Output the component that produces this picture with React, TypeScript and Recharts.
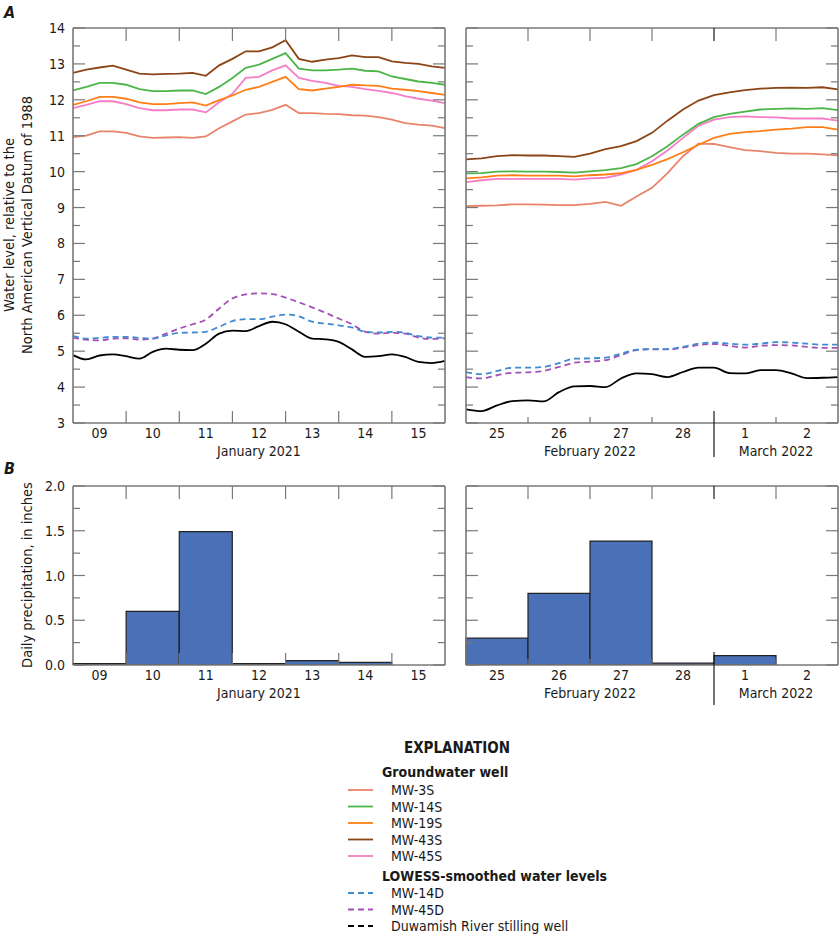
import React from "react";
import { ComposedChart, BarChart, Line, Bar, XAxis, YAxis } from "recharts";

const FONT = '"Liberation Sans Narrow", "Arial Narrow", "DejaVu Sans Condensed", "Liberation Sans", sans-serif';
const FRAME = "#787878";
const INK = "#1a1a1a";

// January 2021, water levels every 6 hours starting 09 Jan 00:00
const janDayLabels = ["09", "10", "11", "12", "13", "14", "15"];
const janMonthLabels = ["January 2021"];
const janMonthSpans = [7];
const janMw3s = [10.96, 11.0, 11.12, 11.12, 11.08, 10.98, 10.94, 10.95, 10.96, 10.94, 10.98, 11.21, 11.4, 11.59, 11.63, 11.72, 11.86, 11.63, 11.63, 11.61, 11.6, 11.57, 11.56, 11.52, 11.45, 11.35, 11.31, 11.28, 11.21];
const janMw14s = [12.26, 12.36, 12.47, 12.47, 12.42, 12.3, 12.24, 12.24, 12.26, 12.26, 12.16, 12.36, 12.61, 12.89, 12.98, 13.14, 13.3, 12.87, 12.82, 12.82, 12.84, 12.87, 12.81, 12.79, 12.65, 12.58, 12.51, 12.47, 12.42];
const janMw19s = [11.86, 11.96, 12.08, 12.08, 12.03, 11.93, 11.88, 11.88, 11.91, 11.93, 11.84, 11.99, 12.12, 12.28, 12.36, 12.5, 12.64, 12.3, 12.26, 12.31, 12.36, 12.42, 12.4, 12.39, 12.31, 12.28, 12.24, 12.19, 12.14];
const janMw43s = [12.75, 12.84, 12.9, 12.95, 12.84, 12.73, 12.71, 12.72, 12.73, 12.75, 12.67, 12.96, 13.14, 13.35, 13.35, 13.46, 13.66, 13.14, 13.06, 13.12, 13.16, 13.24, 13.19, 13.19, 13.07, 13.03, 13.0, 12.93, 12.89];
const janMw45s = [11.77, 11.86, 11.96, 11.96, 11.88, 11.77, 11.71, 11.71, 11.73, 11.73, 11.65, 11.93, 12.17, 12.61, 12.64, 12.82, 12.96, 12.61, 12.53, 12.47, 12.39, 12.36, 12.3, 12.25, 12.19, 12.1, 12.03, 11.98, 11.91];
const janMw14d = [5.43, 5.35, 5.37, 5.4, 5.4, 5.37, 5.35, 5.44, 5.51, 5.52, 5.54, 5.68, 5.84, 5.89, 5.89, 5.96, 6.02, 5.97, 5.82, 5.77, 5.72, 5.66, 5.54, 5.52, 5.54, 5.51, 5.42, 5.38, 5.38];
const janMw45d = [5.38, 5.32, 5.3, 5.35, 5.36, 5.32, 5.35, 5.49, 5.63, 5.75, 5.88, 6.19, 6.47, 6.58, 6.61, 6.59, 6.49, 6.36, 6.22, 6.07, 5.91, 5.75, 5.54, 5.49, 5.51, 5.49, 5.38, 5.34, 5.36];
const janRiver = [4.89, 4.77, 4.88, 4.91, 4.86, 4.79, 4.98, 5.07, 5.04, 5.03, 5.21, 5.49, 5.57, 5.56, 5.7, 5.82, 5.75, 5.54, 5.35, 5.33, 5.26, 5.05, 4.84, 4.86, 4.91, 4.84, 4.7, 4.67, 4.73];
const janPrecip = [0.015, 0.6, 1.49, 0.015, 0.05, 0.03, 0];

// February 25 - March 2, 2022, every 6 hours starting 25 Feb 00:00
const febMarDayLabels = ["25", "26", "27", "28", "1", "2"];
const febMarMonthLabels = ["February 2022", "March 2022"];
const febMarMonthSpans = [4, 2];
const fmMw3s = [9.04, 9.05, 9.06, 9.09, 9.09, 9.08, 9.07, 9.07, 9.1, 9.16, 9.05, 9.31, 9.55, 9.96, 10.43, 10.78, 10.77, 10.68, 10.6, 10.57, 10.52, 10.5, 10.5, 10.48, 10.45];
const fmMw14s = [9.95, 9.96, 10.0, 10.01, 10.0, 10.0, 9.99, 9.97, 10.01, 10.04, 10.1, 10.21, 10.43, 10.71, 11.03, 11.33, 11.52, 11.61, 11.67, 11.73, 11.75, 11.76, 11.75, 11.77, 11.71];
const fmMw19s = [9.81, 9.84, 9.89, 9.9, 9.89, 9.89, 9.89, 9.87, 9.9, 9.92, 9.96, 10.05, 10.19, 10.35, 10.54, 10.75, 10.94, 11.05, 11.1, 11.13, 11.17, 11.2, 11.24, 11.24, 11.17];
const fmMw43s = [10.34, 10.37, 10.43, 10.46, 10.45, 10.45, 10.43, 10.41, 10.5, 10.63, 10.71, 10.85, 11.08, 11.42, 11.73, 11.98, 12.13, 12.21, 12.27, 12.31, 12.33, 12.34, 12.33, 12.35, 12.29];
const fmMw45s = [9.71, 9.76, 9.8, 9.8, 9.8, 9.8, 9.8, 9.78, 9.81, 9.83, 9.92, 10.05, 10.29, 10.59, 10.94, 11.28, 11.45, 11.52, 11.54, 11.52, 11.51, 11.48, 11.48, 11.48, 11.42];
const fmMw14d = [4.42, 4.36, 4.45, 4.54, 4.54, 4.56, 4.67, 4.79, 4.8, 4.82, 4.93, 5.04, 5.06, 5.06, 5.12, 5.21, 5.24, 5.21, 5.18, 5.21, 5.25, 5.24, 5.21, 5.18, 5.18];
const fmMw45d = [4.28, 4.24, 4.33, 4.4, 4.41, 4.45, 4.56, 4.68, 4.71, 4.75, 4.89, 5.03, 5.05, 5.05, 5.1, 5.17, 5.2, 5.15, 5.1, 5.15, 5.17, 5.16, 5.12, 5.09, 5.09];
const fmRiver = [3.38, 3.33, 3.49, 3.61, 3.63, 3.6, 3.86, 4.02, 4.03, 4.0, 4.24, 4.38, 4.36, 4.28, 4.42, 4.54, 4.54, 4.39, 4.38, 4.47, 4.47, 4.38, 4.25, 4.26, 4.28];
const fmPrecip = [0.3, 0.8, 1.385, 0.02, 0.104, 0];

const waterTicks = [3, 3.5, 4, 4.5, 5, 5.5, 6, 6.5, 7, 7.5, 8, 8.5, 9, 9.5, 10, 10.5, 11, 11.5, 12, 12.5, 13, 13.5, 14];
const precipTicks = [0, 0.25, 0.5, 0.75, 1, 1.25, 1.5, 1.75, 2];

const wells = [
  { key: "mw3s", name: "MW-3S", color: "#e8846a" },
  { key: "mw14s", name: "MW-14S", color: "#4cb548" },
  { key: "mw19s", name: "MW-19S", color: "#ff7f16" },
  { key: "mw43s", name: "MW-43S", color: "#8b4516" },
  { key: "mw45s", name: "MW-45S", color: "#f47ec6" },
];
const smoothed = [
  { key: "mw14d", name: "MW-14D", color: "#3f8ad0" },
  { key: "mw45d", name: "MW-45D", color: "#a24fb6" },
  { key: "river", name: "Duwamish River stilling well", color: "#000000" },
];
const drawOrder = ["mw3s", "mw45s", "mw19s", "mw14s", "mw43s"];

function buildRows(series: Record<string, number[]>) {
  const n = series.mw3s.length;
  return Array.from({ length: n }, (_, i) => {
    const row: Record<string, number> = { t: i / 4 };
    Object.keys(series).forEach((k) => (row[k] = series[k][i]));
    return row;
  });
}

const janRows = buildRows({ mw3s: janMw3s, mw14s: janMw14s, mw19s: janMw19s, mw43s: janMw43s, mw45s: janMw45s, mw14d: janMw14d, mw45d: janMw45d, river: janRiver });
const fmRows = buildRows({ mw3s: fmMw3s, mw14s: fmMw14s, mw19s: fmMw19s, mw43s: fmMw43s, mw45s: fmMw45s, mw14d: fmMw14d, mw45d: fmMw45d, river: fmRiver });
const janBars = janDayLabels.map((day, i) => ({ day, precip: janPrecip[i] }));
const fmBars = febMarDayLabels.map((day, i) => ({ day, precip: fmPrecip[i] }));

const textStyle = { fontFamily: FONT, fontSize: 14, fill: INK } as const;

function monthCenters(spans: number[]) {
  let acc = 0;
  return spans.map((s) => {
    const c = acc + s / 2;
    acc += s;
    return c;
  });
}

function monthBounds(spans: number[]) {
  let acc = 0;
  return spans.slice(0, -1).map((s) => (acc += s));
}

type BottomOpts = {
  dayLabels: string[];
  monthLabels: string[];
  monthSpans: number[];
  dayWidth: number;
  tickLen: number;
  dividerUp: number;
  dividerDown: number;
};

function makeBottomTick(o: BottomOpts) {
  const centers = monthCenters(o.monthSpans);
  const bounds = monthBounds(o.monthSpans);
  const n = o.dayLabels.length;
  return (props: any) => {
    const { x, y, payload, index } = props;
    const i = typeof payload.value === "number" ? Math.round(payload.value - 0.5) : index;
    const edge = x + o.dayWidth / 2;
    const isBound = bounds.includes(i + 1);
    return (
      <g>
        {i < n - 1 && !isBound && <line x1={edge} x2={edge} y1={y} y2={y - o.tickLen} stroke={FRAME} strokeWidth={1.2} />}
        {isBound && <line x1={edge} x2={edge} y1={y - o.dividerUp} y2={y + o.dividerDown} stroke={INK} strokeWidth={1.2} />}
        <text x={x} y={y + 15} textAnchor="middle" style={textStyle}>
          {o.dayLabels[i]}
        </text>
        {centers.map((c, m) =>
          Math.ceil(c) - 1 === i ? (
            <text key={m} x={x + (c - (i + 0.5)) * o.dayWidth} y={y + 33} textAnchor="middle" style={textStyle}>
              {o.monthLabels[m]}
            </text>
          ) : null
        )}
      </g>
    );
  };
}

function makeTopTick(n: number, dayWidth: number, spans: number[]) {
  const bounds = monthBounds(spans);
  return (props: any) => {
    const { x, y, payload, index } = props;
    const i = typeof payload.value === "number" ? Math.round(payload.value - 0.5) : index;
    if (i >= n - 1) return <g />;
    const edge = x + dayWidth / 2;
    return <line x1={edge} x2={edge} y1={y} y2={y + 13} stroke={bounds.includes(i + 1) ? INK : FRAME} strokeWidth={1.2} />;
  };
}

function makeSideTick(side: "left" | "right", majorStep: number, decimals: number, labels: boolean) {
  return (props: any) => {
    const { x, y, payload } = props;
    const v = payload.value as number;
    const major = Math.abs(v / majorStep - Math.round(v / majorStep)) < 1e-6;
    const len = major ? 12 : 7;
    const x2 = side === "left" ? x + len : x - len;
    return (
      <g>
        <line x1={x} x2={x2} y1={y} y2={y} stroke={FRAME} strokeWidth={1.2} />
        {labels && major && (
          <text x={x - 8} y={y + 5} textAnchor="end" style={textStyle}>
            {v.toFixed(decimals)}
          </text>
        )}
      </g>
    );
  };
}

const frameLine = { stroke: FRAME, strokeWidth: 1.6 };

type PanelProps = {
  dayLabels: string[];
  monthLabels: string[];
  monthSpans: number[];
  left: number;
  width: number;
  marginLeft: number;
  marginRight: number;
  leftAxisWidth: number;
  rightAxisWidth: number;
  labels: boolean;
  bottomTickLen: number;
};

function WaterPanel(p: PanelProps & { rows: Record<string, number>[] }) {
  const n = p.dayLabels.length;
  const dayWidth = (p.width - p.marginLeft - p.marginRight - p.leftAxisWidth - p.rightAxisWidth) / n;
  const centerTicks = p.dayLabels.map((_, i) => i + 0.5);
  return (
    <div style={{ position: "absolute", left: p.left, top: 0 }}>
      <ComposedChart width={p.width} height={480} data={p.rows} margin={{ top: 18, right: p.marginRight, bottom: 12, left: p.marginLeft }}>
        <XAxis xAxisId="b" dataKey="t" type="number" domain={[0, n]} allowDataOverflow ticks={centerTicks} interval={0} height={45} tickSize={0} tickMargin={0} tickLine={false} axisLine={frameLine}
          tick={makeBottomTick({ dayLabels: p.dayLabels, monthLabels: p.monthLabels, monthSpans: p.monthSpans, dayWidth, tickLen: p.bottomTickLen, dividerUp: 12, dividerDown: 34 })} />
        <XAxis xAxisId="t" orientation="top" dataKey="t" type="number" domain={[0, n]} allowDataOverflow ticks={centerTicks} interval={0} height={10} tickSize={0} tickMargin={0} tickLine={false} axisLine={frameLine}
          tick={makeTopTick(n, dayWidth, p.monthSpans)} />
        <YAxis yAxisId="l" type="number" domain={[3, 14]} allowDataOverflow ticks={waterTicks} interval={0} width={p.leftAxisWidth} tickSize={0} tickMargin={0} tickLine={false} axisLine={frameLine}
          tick={makeSideTick("left", 1, 0, p.labels)} />
        <YAxis yAxisId="r" orientation="right" type="number" domain={[3, 14]} allowDataOverflow ticks={waterTicks} interval={0} width={p.rightAxisWidth} tickSize={0} tickMargin={0} tickLine={false} axisLine={frameLine}
          tick={makeSideTick("right", 1, 0, false)} />
        {drawOrder.map((key) => {
          const w = wells.find((x) => x.key === key)!;
          return <Line key={key} xAxisId="b" yAxisId="l" type="linear" dataKey={key} stroke={w.color} strokeWidth={1.8} dot={false} activeDot={false} isAnimationActive={false} />;
        })}
        <Line xAxisId="b" yAxisId="l" type="monotone" dataKey="mw45d" stroke={smoothed[1].color} strokeWidth={1.8} strokeDasharray="6 4" dot={false} activeDot={false} isAnimationActive={false} />
        <Line xAxisId="b" yAxisId="l" type="monotone" dataKey="mw14d" stroke={smoothed[0].color} strokeWidth={1.8} strokeDasharray="6 4" dot={false} activeDot={false} isAnimationActive={false} />
        <Line xAxisId="b" yAxisId="l" type="monotone" dataKey="river" stroke="#000" strokeWidth={1.8} dot={false} activeDot={false} isAnimationActive={false} />
      </ComposedChart>
    </div>
  );
}

function PrecipPanel(p: PanelProps & { bars: { day: string; precip: number }[] }) {
  const n = p.dayLabels.length;
  const dayWidth = (p.width - p.marginLeft - p.marginRight - p.leftAxisWidth - p.rightAxisWidth) / n;
  return (
    <div style={{ position: "absolute", left: p.left, top: 440 }}>
      <BarChart width={p.width} height={280} data={p.bars} barCategoryGap={0} margin={{ top: 36, right: p.marginRight, bottom: 10, left: p.marginLeft }}>
        <XAxis xAxisId="b" dataKey="day" interval={0} height={45} tickSize={0} tickMargin={0} tickLine={false} axisLine={frameLine}
          tick={makeBottomTick({ dayLabels: p.dayLabels, monthLabels: p.monthLabels, monthSpans: p.monthSpans, dayWidth, tickLen: p.bottomTickLen, dividerUp: 13, dividerDown: 40 })} />
        <XAxis xAxisId="t" orientation="top" dataKey="day" interval={0} height={10} tickSize={0} tickMargin={0} tickLine={false} axisLine={frameLine}
          tick={makeTopTick(n, dayWidth, p.monthSpans)} />
        <YAxis yAxisId="l" type="number" domain={[0, 2]} allowDataOverflow ticks={precipTicks} interval={0} width={p.leftAxisWidth} tickSize={0} tickMargin={0} tickLine={false} axisLine={frameLine}
          tick={makeSideTick("left", 0.5, 1, p.labels)} />
        <YAxis yAxisId="r" orientation="right" type="number" domain={[0, 2]} allowDataOverflow ticks={precipTicks} interval={0} width={p.rightAxisWidth} tickSize={0} tickMargin={0} tickLine={false} axisLine={frameLine}
          tick={makeSideTick("right", 0.5, 1, false)} />
        <Bar xAxisId="b" yAxisId="l" dataKey="precip" fill="#4a71b8" stroke="#222" strokeWidth={1.2} isAnimationActive={false} />
      </BarChart>
    </div>
  );
}

const leftPanel = { left: 0, width: 460, marginLeft: 33, marginRight: 5, leftAxisWidth: 40, rightAxisWidth: 10, labels: true, bottomTickLen: 12 };
const rightPanel = { left: 460, width: 380, marginLeft: 0, marginRight: 1, leftAxisWidth: 6, rightAxisWidth: 1, labels: false, bottomTickLen: 6 };

function Explanation() {
  const lineX1 = 348;
  const lineX2 = 373;
  const textX = 391;
  const wellRows = [790, 806.5, 823, 839.5, 856];
  const smoothRows = [893, 909.5, 926];
  return (
    <svg width={840} height={942} style={{ position: "absolute", left: 0, top: 0, pointerEvents: "none" }}>
      <text x={4} y={18} style={{ ...textStyle, fontSize: 16, fontWeight: 700, fontStyle: "italic" }}>A</text>
      <text x={4} y={474} style={{ ...textStyle, fontSize: 16, fontWeight: 700, fontStyle: "italic" }}>B</text>
      <g transform="translate(14,225) rotate(-90)">
        <text x={0} y={0} textAnchor="middle" style={{ ...textStyle, fontSize: 14.5 }}>Water level, relative to the</text>
      </g>
      <g transform="translate(32,225) rotate(-90)">
        <text x={0} y={0} textAnchor="middle" style={{ ...textStyle, fontSize: 14.5 }}>North American Vertical Datum of 1988</text>
      </g>
      <g transform="translate(32,575) rotate(-90)">
        <text x={0} y={0} textAnchor="middle" style={{ ...textStyle, fontSize: 14.5 }}>Daily precipitation, in inches</text>
      </g>
      <text x={457} y={753} textAnchor="middle" style={{ ...textStyle, fontSize: 15, fontWeight: 700 }}>EXPLANATION</text>
      <text x={382} y={777} style={{ ...textStyle, fontWeight: 700 }}>Groundwater well</text>
      {wells.map((w, i) => (
        <g key={w.key}>
          <line x1={lineX1} x2={lineX2} y1={wellRows[i]} y2={wellRows[i]} stroke={w.color} strokeWidth={1.8} />
          <text x={textX} y={wellRows[i] + 5} style={textStyle}>{w.name}</text>
        </g>
      ))}
      <text x={382} y={881} style={{ ...textStyle, fontWeight: 700 }}>LOWESS-smoothed water levels</text>
      {smoothed.map((s, i) => (
        <g key={s.key}>
          <line x1={lineX1} x2={lineX2} y1={smoothRows[i]} y2={smoothRows[i]} stroke={s.color} strokeWidth={1.8} strokeDasharray="6 4" />
          <text x={textX} y={smoothRows[i] + 5} style={textStyle}>{s.name}</text>
        </g>
      ))}
    </svg>
  );
}

export default function App() {
  return (
    <div style={{ position: "absolute", left: 0, top: 0, width: 840, height: 942, background: "#fff", fontFamily: FONT }}>
      <WaterPanel {...leftPanel} rows={janRows} dayLabels={janDayLabels} monthLabels={janMonthLabels} monthSpans={janMonthSpans} />
      <WaterPanel {...rightPanel} rows={fmRows} dayLabels={febMarDayLabels} monthLabels={febMarMonthLabels} monthSpans={febMarMonthSpans} />
      <PrecipPanel {...leftPanel} bars={janBars} dayLabels={janDayLabels} monthLabels={janMonthLabels} monthSpans={janMonthSpans} />
      <PrecipPanel {...rightPanel} bars={fmBars} dayLabels={febMarDayLabels} monthLabels={febMarMonthLabels} monthSpans={febMarMonthSpans} />
      <Explanation />
    </div>
  );
}
